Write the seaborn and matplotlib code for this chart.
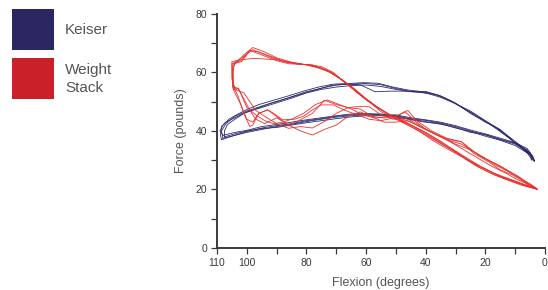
import pandas as pd
import matplotlib.pyplot as plt
import seaborn as sns
from matplotlib.patches import Rectangle

# ---------------------------------------------------------
# Data: force traces, one list pair per repetition
# Each rep runs along one branch of the loop and back along the other
# ---------------------------------------------------------
keiser_rep1_flex = [108, 104, 100, 95, 90, 85, 80, 75, 70, 65, 60, 55, 50, 45, 40, 35, 30, 25, 20, 15, 10, 6, 4,
                    3.5, 5, 8, 12, 16, 20, 25, 30, 35, 40, 45, 50, 55, 60, 65, 70, 75, 80, 85, 90, 95, 100, 104, 107, 108.5, 108]
keiser_rep1_force = [37.5, 38.5, 39.5, 40.5, 41.5, 42.3, 43.2, 44.0, 44.7, 45.2, 45.5, 45.5, 45.2, 44.2, 43.6, 42.7, 41.5, 40.0, 38.6, 37.0, 35.5, 33.0, 30.5,
                     29.8, 32.5, 34.8, 38.0, 41.0, 43.5, 46.8, 49.3, 51.5, 53.0, 53.5, 54.5, 55.8, 56.2, 56.0, 55.7, 54.6, 53.4, 51.7, 50.0, 48.5, 46.8, 45.0, 42.5, 40.0, 37.5]

keiser_rep2_flex = [108.5, 105, 100, 95, 90, 85, 80, 75, 70, 65, 60, 55, 50, 45, 40, 35, 30, 25, 20, 15, 10, 6, 4.5,
                    3.5, 4, 7, 11, 15, 20, 25, 30, 35, 40, 45, 50, 55, 60, 65, 70, 75, 80, 85, 90, 95, 100, 104, 107, 108.5, 108.8, 108.5]
keiser_rep2_force = [37.0, 38.2, 39.8, 41.0, 41.8, 42.5, 43.5, 44.2, 45.0, 45.5, 45.8, 45.8, 45.0, 44.0, 43.2, 42.5, 41.0, 39.8, 38.2, 36.8, 35.0, 32.5, 30.5,
                     29.5, 31.0, 33.5, 36.8, 40.5, 43.0, 46.0, 49.5, 52.0, 53.5, 53.4, 54.2, 55.2, 55.7, 55.5, 55.0, 54.2, 53.0, 51.2, 49.6, 48.0, 46.5, 44.5, 43.0, 41.5, 38.5, 37.0]

keiser_rep3_flex = [107.5, 104, 100, 95, 90, 85, 80, 75, 70, 65, 60, 55, 50, 45, 40, 35, 30, 25, 20, 15, 10, 6, 4,
                    3.8, 5.5, 9, 13, 17, 22, 27, 32, 37, 42, 47, 52, 57, 62, 67, 72, 77, 82, 87, 92, 97, 101, 104, 106.5, 107.5, 107.5]
keiser_rep3_force = [38.0, 39.0, 40.0, 40.8, 41.2, 42.0, 42.8, 43.5, 44.2, 44.8, 45.2, 45.2, 44.8, 43.8, 43.0, 42.3, 41.2, 39.5, 38.8, 37.2, 35.8, 33.5, 31.0,
                     30.5, 32.5, 35.0, 38.5, 41.5, 44.5, 47.5, 50.5, 52.5, 53.2, 53.6, 53.6, 53.4, 55.8, 56.0, 55.5, 54.0, 52.5, 51.0, 49.5, 47.5, 46.0, 44.0, 42.2, 40.0, 38.0]

keiser_rep4_flex = [108, 104, 100, 95, 90, 85, 80, 75, 70, 65, 60, 55, 50, 45, 40, 35, 30, 25, 20, 15, 10, 6, 4.2,
                    4.5, 5, 8, 12, 16, 21, 26, 31, 36, 41, 46, 51, 56, 61, 66, 71, 76, 81, 86, 91, 96, 100, 103.5, 106, 108, 109, 108]
keiser_rep4_force = [38.5, 39.5, 40.2, 41.5, 42.2, 43.0, 43.8, 44.5, 45.2, 45.8, 46.0, 45.5, 45.5, 44.5, 43.8, 43.0, 41.8, 40.3, 39.0, 37.5, 36.0, 34.0, 31.5,
                     30.0, 32.0, 34.5, 37.5, 40.5, 44.0, 47.0, 50.0, 52.3, 53.4, 54.0, 55.0, 56.3, 56.5, 56.2, 56.0, 55.0, 53.6, 52.0, 50.5, 49.0, 47.3, 45.5, 44.0, 42.0, 40.0, 38.5]

stack_rep1_flex = [2.5, 5, 8, 12, 17, 22, 28, 33, 38, 43, 46, 50, 54, 58, 62, 66, 70, 74, 78, 82, 86, 90, 94, 97, 99, 101, 103, 104.5,
                   105, 105, 102, 99, 95, 90, 86, 80, 76, 72, 68, 64, 60, 56, 52, 48, 43, 38, 33, 28, 23, 18, 14, 10, 6, 2.5]
stack_rep1_force = [20.0, 21.8, 23.5, 26.0, 29.0, 31.5, 36.3, 37.5, 40.0, 43.5, 47.0, 45.0, 44.4, 45.0, 47.5, 48.0, 49.0, 50.5, 46.0, 43.8, 42.0, 44.5, 42.5, 44.0, 47.0, 51.0, 54.6, 55.0,
                    58.0, 63.0, 64.0, 67.5, 66.0, 64.0, 63.0, 62.6, 61.5, 60.0, 57.5, 54.5, 51.0, 48.0, 45.5, 43.2, 40.3, 37.5, 34.5, 31.5, 28.5, 26.0, 24.0, 22.5, 21.0, 20.0]

stack_rep2_flex = [2.8, 6, 9, 13, 18, 23, 28, 33, 38, 43, 47, 51, 55, 59, 63, 66, 70, 74, 78, 82, 86, 90, 94, 97, 99, 101, 103.5,
                   104.5, 104.7, 101, 98, 94, 90, 85, 80, 75, 71, 67, 63, 59, 55, 51, 47, 43, 38, 33, 28, 23, 18, 14, 10, 6, 3]
stack_rep2_force = [20.2, 22.0, 23.2, 25.5, 28.0, 31.0, 34.0, 37.0, 39.5, 42.5, 44.5, 44.0, 45.5, 48.3, 48.3, 48.0, 46.0, 43.2, 41.0, 41.5, 40.9, 42.5, 45.0, 47.0, 50.0, 53.0, 54.0,
                    56.0, 62.0, 66.0, 68.5, 67.0, 65.0, 63.5, 62.6, 61.5, 59.5, 56.5, 53.0, 50.0, 46.6, 44.5, 42.5, 40.5, 37.0, 34.0, 31.2, 28.0, 25.5, 23.8, 22.5, 21.2, 20.3]

stack_rep3_flex = [3, 6, 10, 14, 18, 23, 28, 33, 38, 42, 46, 50, 54, 58, 62, 66, 70, 74, 78, 82, 86, 90, 93, 96, 98, 100, 102, 104,
                   104.8, 105, 102, 98, 94, 90, 85, 80, 76, 72, 68, 64, 60, 56, 52, 48, 44, 40, 35, 30, 26, 22, 18, 15, 12, 8, 5, 3]
stack_rep3_force = [20.5, 22.5, 25.0, 27.5, 29.5, 32.4, 35.5, 37.0, 39.5, 41.5, 43.5, 43.0, 43.0, 44.9, 46.5, 45.0, 42.0, 40.5, 38.6, 40.0, 42.0, 44.9, 47.2, 46.0, 43.0, 44.0, 49.0, 53.0,
                    55.0, 63.7, 64.3, 64.8, 64.6, 64.3, 63.4, 62.6, 61.8, 60.3, 57.5, 54.2, 50.6, 47.8, 45.5, 43.5, 41.5, 39.5, 36.5, 33.0, 30.0, 28.0, 26.0, 24.5, 23.5, 22.0, 21.0, 20.5]

stack_rep4_flex = [2.5, 5, 8, 11, 15, 19, 24, 28, 32, 36, 40, 44, 47, 51, 55, 59, 63, 67, 71, 75, 78, 81, 84, 88, 91, 93, 96, 98, 99, 101, 103, 104.2,
                   104.8, 104.6, 101.7, 99, 96, 92, 88, 84, 79, 75, 71, 67, 63, 60, 56, 52, 48, 44, 40, 36, 32, 27, 22, 17, 12, 8, 4, 2.5]
stack_rep4_force = [20.0, 21.0, 23.2, 25.0, 26.7, 29.5, 32.4, 36.3, 37.0, 38.6, 40.5, 43.8, 46.6, 44.4, 43.5, 44.0, 45.5, 47.0, 48.9, 48.9, 47.2, 45.0, 44.0, 43.8, 46.0, 47.2, 46.0, 42.0, 41.5, 46.0, 52.0, 54.6,
                    57.0, 63.0, 63.7, 67.5, 67.0, 65.5, 64.0, 63.0, 62.6, 62.0, 60.0, 56.5, 53.5, 51.0, 48.0, 45.5, 43.8, 41.5, 39.0, 36.5, 34.0, 30.8, 27.5, 25.0, 23.0, 21.5, 20.5, 20.0]

stack_rep5_flex = [3, 6, 9, 12, 16, 20, 25, 30, 35, 40, 45, 49, 53, 57, 61, 65, 69, 73, 77, 81, 85, 88, 91, 94, 97, 100, 102.8,
                   104.5, 104.7, 104, 101, 98, 95, 91, 87, 82, 78, 73, 69, 65, 61, 57, 53, 49, 45, 41, 37, 33, 29, 25, 21, 17, 13, 9, 5, 3]
stack_rep5_force = [20.3, 22.0, 24.5, 26.0, 28.0, 30.5, 33.5, 35.5, 38.0, 40.5, 43.0, 44.5, 44.9, 44.4, 45.5, 47.5, 49.0, 50.6, 49.0, 46.0, 44.0, 43.0, 42.5, 43.5, 45.5, 48.0, 54.6,
                    54.0, 60.0, 63.5, 65.5, 67.8, 66.5, 64.8, 63.5, 62.8, 62.6, 60.5, 58.0, 55.0, 51.5, 48.5, 46.0, 44.0, 42.0, 40.0, 37.5, 35.0, 32.5, 30.0, 27.5, 25.5, 24.0, 22.5, 21.0, 20.3]

reps = {
    ('Keiser', 'K1'): (keiser_rep1_flex, keiser_rep1_force),
    ('Keiser', 'K2'): (keiser_rep2_flex, keiser_rep2_force),
    ('Keiser', 'K3'): (keiser_rep3_flex, keiser_rep3_force),
    ('Keiser', 'K4'): (keiser_rep4_flex, keiser_rep4_force),
    ('Weight Stack', 'W1'): (stack_rep1_flex, stack_rep1_force),
    ('Weight Stack', 'W2'): (stack_rep2_flex, stack_rep2_force),
    ('Weight Stack', 'W3'): (stack_rep3_flex, stack_rep3_force),
    ('Weight Stack', 'W4'): (stack_rep4_flex, stack_rep4_force),
    ('Weight Stack', 'W5'): (stack_rep5_flex, stack_rep5_force),
}

x_ticks = [110, 100, 90, 80, 70, 60, 50, 40, 30, 20, 10, 0]
x_tick_labels = ['110', '100', '', '80', '', '60', '', '40', '', '20', '', '0']
y_ticks = [0, 10, 20, 30, 40, 50, 60, 70, 80]
y_tick_labels = ['0', '', '20', '', '40', '', '60', '', '80']

# Long-form table for seaborn
rows = []
for (device, rep), (flex, force) in reps.items():
    for i, (f, v) in enumerate(zip(flex, force)):
        rows.append({'device': device, 'rep': rep, 'step': i, 'flexion': f, 'force': v})
df = pd.DataFrame(rows)

sns.set_theme(style="white")
plt.rcParams['font.family'] = ['Liberation Sans', 'DejaVu Sans']

navy_line = '#2d2b6e'
red_line = '#e8312c'
text_grey = '#555555'
axis_grey = '#3a3a3a'

fig = plt.figure(figsize=(5.48, 2.90), dpi=100)
ax = fig.add_axes([0.396, 0.145, 0.5985, 0.807])

sns.lineplot(data=df, x='flexion', y='force', hue='device', units='rep', estimator=None, sort=False,
             palette={'Keiser': navy_line, 'Weight Stack': red_line}, linewidth=0.6, legend=False, ax=ax)

ax.set_xlim(110, 0)
ax.set_ylim(0, 80)
ax.set_xticks(x_ticks)
ax.set_xticklabels(x_tick_labels)
ax.set_yticks(y_ticks)
ax.set_yticklabels(y_tick_labels)
ax.tick_params(axis='both', direction='out', length=4, width=0.9, color=axis_grey,
               labelsize=7.5, labelcolor=axis_grey, pad=3)
ax.tick_params(axis='x', bottom=True)
ax.tick_params(axis='y', left=True)

for side in ['top', 'right']:
    ax.spines[side].set_visible(False)
for side in ['left', 'bottom']:
    ax.spines[side].set_color(axis_grey)
    ax.spines[side].set_linewidth(1.4)

ax.set_xlabel('Flexion (degrees)', fontsize=9, color=text_grey, labelpad=7)
ax.set_ylabel('Force (pounds)', fontsize=9, color=text_grey, labelpad=6)

# Legend drawn as coloured squares in the top-left corner
fig.add_artist(Rectangle((0.0219, 0.8276), 0.0766, 0.1414, transform=fig.transFigure,
                         facecolor='#2b2762', edgecolor='none'))
fig.add_artist(Rectangle((0.0219, 0.6586), 0.0766, 0.1414, transform=fig.transFigure,
                         facecolor='#c9202a', edgecolor='none'))
fig.text(0.1186, 0.8966, 'Keiser', fontsize=11, color=text_grey, va='center', ha='left')
fig.text(0.1186, 0.7276, 'Weight\nStack', fontsize=11, color=text_grey, va='center', ha='left',
         linespacing=1.35)

fig.savefig('out.png', dpi=100)
plt.close(fig)
